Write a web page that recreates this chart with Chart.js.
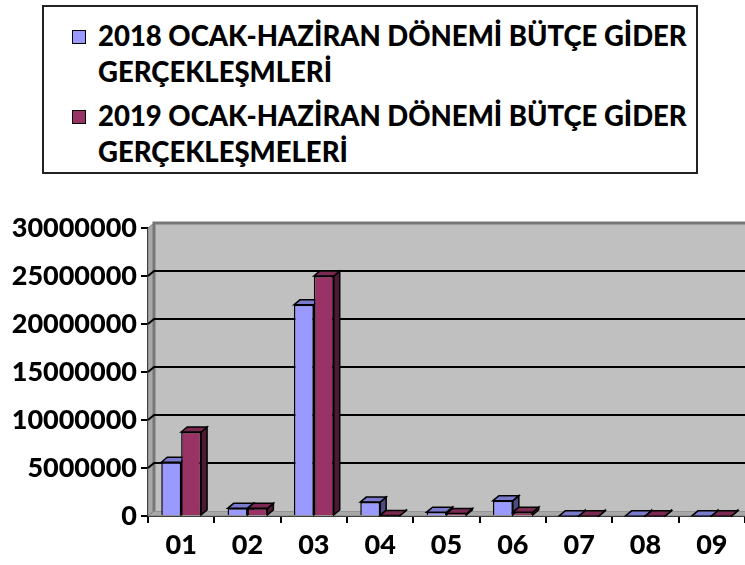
<!DOCTYPE html>
<html>
<head>
<meta charset="utf-8">
<script src="https://cdn.jsdelivr.net/npm/chart.js@4.4.1/dist/chart.umd.min.js"></script>
<style>
	html, body {margin: 0; padding: 0; background: #fff;}
	#wrap {position: relative; width: 745px; height: 565px;}
	#legend {
		position: absolute; left: 42px; top: 5px; width: 652px; height: 165px;
		border: 2px solid #222; background: #fff; box-sizing: content-box;
		font-family: Lato, sans-serif; font-weight: 900; font-size: 27.5px; color: #000;
	}
	.item {position: absolute; left: 54px; width: 600px; line-height: 36px; white-space: nowrap;}
	.swatch {position: absolute; left: -26px; top: 12px; width: 12px; height: 12px; border: 1px solid #000;}
</style>
</head>
<body>
<div id="wrap">
	<canvas id="chart" width="745" height="565"></canvas>
	<div id="legend"></div>
</div>
<script>
'use strict';

const categories = ['01', '02', '03', '04', '05', '06', '07', '08', '09'];
const values2018 = [5600000, 800000, 22000000, 1450000, 400000, 1600000, 20000, 20000, 20000];
const values2019 = [8750000, 800000, 25000000, 50000, 250000, 400000, 20000, 20000, 20000];
const yTicks = [0, 5000000, 10000000, 15000000, 20000000, 25000000, 30000000];
const seriesLabels = [
	['2018 OCAK-HAZİRAN DÖNEMİ BÜTÇE GİDER', 'GERÇEKLEŞMLERİ'],
	['2019 OCAK-HAZİRAN DÖNEMİ BÜTÇE GİDER', 'GERÇEKLEŞMELERİ']
];

const DX = 6, DY = 5;				//3d depth offset
const faces = [
	{front: '#9999FF', top: '#7A7ACC', side: '#4C4C80'},
	{front: '#993366', top: '#7A2952', side: '#4D1A33'}
];

function poly(ctx, pts, fill) {
	ctx.beginPath();
	ctx.moveTo(pts[0][0], pts[0][1]);
	for (let i = 1; i < pts.length; ++i) {
		ctx.lineTo(pts[i][0], pts[i][1]);
	}
	ctx.closePath();
	ctx.fillStyle = fill;
	ctx.fill();
	ctx.stroke();
}

const plugins = [
	{
		id: 'walls',
		beforeDatasetsDraw: chart => {
			const {ctx, chartArea: a} = chart;
			const y = chart.scales.y;
			ctx.save();
			//left wall, floor, back wall
			ctx.lineWidth = 1;
			ctx.strokeStyle = '#808080';
			poly(ctx, [[a.left, a.bottom], [a.left + DX, a.bottom - DY], [a.left + DX, a.top - DY], [a.left, a.top]], '#A8A8A8');
			poly(ctx, [[a.left, a.bottom], [a.left + DX, a.bottom - DY], [a.right + 2, a.bottom - DY], [a.right + 2, a.bottom]], '#A8A8A8');
			ctx.fillStyle = '#C0C0C0';
			ctx.fillRect(a.left + DX, a.top - DY, a.right - a.left, a.bottom - a.top);
			ctx.strokeStyle = '#777';
			ctx.lineWidth = 3;
			ctx.beginPath();
			ctx.moveTo(a.left + DX, a.bottom - DY);
			ctx.lineTo(a.left + DX, a.top - DY);
			ctx.lineTo(a.right + 2, a.top - DY);
			ctx.stroke();
			//gridlines on back and left wall
			ctx.strokeStyle = '#000';
			ctx.lineWidth = 2;
			for (const v of yTicks.slice(1, -1)) {
				const py = y.getPixelForValue(v);
				ctx.beginPath();
				ctx.moveTo(a.left, py);
				ctx.lineTo(a.left + DX, py - DY);
				ctx.lineTo(a.right + 2, py - DY);
				ctx.stroke();
			}
			//side and top faces of the bars
			ctx.lineWidth = 1.5;
			chart.data.datasets.forEach((ds, di) => {
				const meta = chart.getDatasetMeta(di);
				for (const bar of meta.data) {
					const l = bar.x - bar.width / 2, r = bar.x + bar.width / 2;
					const t = bar.y, b = bar.base;
					poly(ctx, [[r, t], [r + DX, t - DY], [r + DX, b - DY], [r, b]], faces[di].side);
					poly(ctx, [[l, t], [l + DX, t - DY], [r + DX, t - DY], [r, t]], faces[di].top);
				}
			});
			ctx.restore();
		}
	},
	{
		id: 'htmlLegend',
		afterUpdate: chart => {
			const box = document.getElementById('legend');
			box.innerHTML = '';
			chart.data.datasets.forEach((ds, i) => {
				const item = document.createElement('div');
				item.className = 'item';
				item.style.top = (i * 80 + 11) + 'px';
				const sw = document.createElement('span');
				sw.className = 'swatch';
				sw.style.background = ds.backgroundColor;
				item.appendChild(sw);
				ds.label.forEach((line, li) => {
					if (li) {
						item.appendChild(document.createElement('br'));
					}
					item.appendChild(document.createTextNode(line));
				});
				box.appendChild(item);
			});
		}
	}
];

const font = {family: 'Lato, sans-serif', weight: '900', size: 27};

new Chart(document.getElementById('chart'), {
	type: 'bar',
	data: {
		labels: categories,
		datasets: [
			{label: seriesLabels[0], data: values2018, backgroundColor: faces[0].front},
			{label: seriesLabels[1], data: values2019, backgroundColor: faces[1].front}
		]
	},
	options: {
		responsive: false,
		animation: false,
		layout: {padding: {top: 228, right: 0, left: 0, bottom: 0}},
		categoryPercentage: 0.6,
		barPercentage: 1.0,
		borderColor: '#000',
		borderWidth: 1.5,
		plugins: {legend: {display: false}, tooltip: {enabled: false}},
		scales: {
			x: {
				afterFit: s => { s.height = 49; },
				border: {display: true, color: '#000', width: 2},
				grid: {drawOnChartArea: false, drawTicks: true, tickLength: 7, color: '#000', lineWidth: 2},
				ticks: {color: '#000', font: font, padding: 6}
			},
			y: {
				min: 0,
				max: 30000000,
				afterFit: s => { s.width = 148; },
				afterBuildTicks: s => { s.ticks = yTicks.map(v => ({value: v})); },
				border: {display: true, color: '#000', width: 2},
				grid: {drawOnChartArea: false, drawTicks: true, tickLength: 7, color: '#000', lineWidth: 2},
				ticks: {color: '#000', font: font, padding: 4, callback: v => String(v)}
			}
		}
	},
	plugins: plugins
});
</script>
</body>
</html>
